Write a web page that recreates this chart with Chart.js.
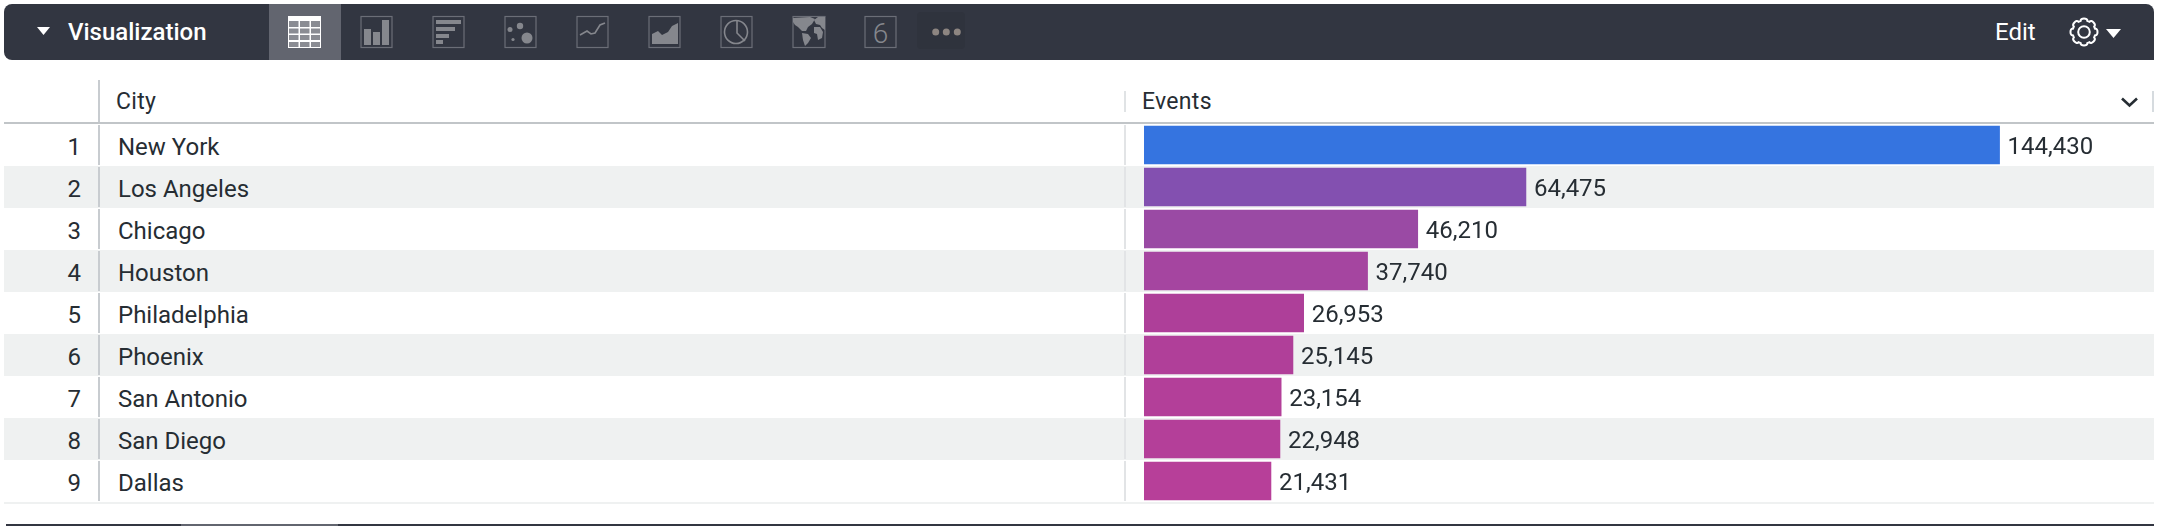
<!DOCTYPE html>
<html>
<head>
<meta charset="utf-8">
<title>Visualization</title>
<script src="https://cdn.jsdelivr.net/npm/chart.js@4"></script>
<style>
html, body { margin: 0; padding: 0; background: #fff; width: 2166px; height: 526px; overflow: hidden; font-family: Roboto, sans-serif; color: #262d33; }
.abs { position: absolute; }
#toolbar { left: 4px; top: 4px; width: 2150px; height: 56px; background: #323641; border-radius: 8px 8px 0 8px; }
#activeTab { left: 269px; top: 4px; width: 72px; height: 56px; background: #62656f; }
#vizTitle { left: 68px; top: 4px; height: 56px; line-height: 56px; font-size: 24px; font-weight: 500; color: #fff; }
#editLabel { left: 1995px; top: 4px; height: 56px; line-height: 56px; font-size: 24px; color: #fff; }
.hdr { top: 91px; height: 21px; line-height: 21px; font-size: 23px; color: #262d33; letter-spacing: 0.3px; }
.row { left: 4px; width: 2150px; height: 42px; }
.rank { width: 77px; text-align: right; left: 4px; font-size: 24px; line-height: 42px; }
.city { left: 118px; font-size: 24px; line-height: 42px; }
.sepA { left: 98px; width: 2px; height: 40px; background: #c8ccd0; }
.sepB { left: 1124px; width: 2px; height: 40px; background: #e2e4e6; }
svg { position: absolute; overflow: visible; }
#chartWrap { left: 0; top: 124px; width: 2166px; height: 378px; }
</style>
</head>
<body>
<div id="rows"></div>
<div class="abs" id="toolbar"></div>
<div class="abs" id="activeTab"></div>
<svg class="abs" style="left:37px;top:27px" width="13" height="8"><path d="M0 0H13L6.5 8Z" fill="#fff"/></svg>
<div class="abs" id="vizTitle">Visualization</div>

<!-- chart type icons -->
<svg class="abs" style="left:0;top:0" width="1000" height="60">
  <rect x="288" y="16" width="33" height="32" fill="#fff"/>
  <g fill="#8a8c93">
    <rect x="289" y="21" width="9.5" height="6"/><rect x="300" y="21" width="9.5" height="6"/><rect x="311" y="21" width="9" height="6"/>
    <rect x="289" y="28.5" width="9.5" height="5"/><rect x="300" y="28.5" width="9.5" height="5"/><rect x="311" y="28.5" width="9" height="5"/>
    <rect x="289" y="35" width="9.5" height="5"/><rect x="300" y="35" width="9.5" height="5"/><rect x="311" y="35" width="9" height="5"/>
    <rect x="289" y="42" width="9.5" height="5"/><rect x="300" y="42" width="9.5" height="5"/><rect x="311" y="42" width="9" height="5"/>
  </g>
  <g fill="none" stroke="#6b6e77" stroke-width="1.2">
    <rect x="361" y="16.5" width="31" height="31"/>
    <rect x="433" y="16.5" width="31" height="31"/>
    <rect x="505" y="16.5" width="31" height="31"/>
    <rect x="577" y="16.5" width="31" height="31"/>
    <rect x="649" y="16.5" width="31" height="31"/>
    <rect x="721" y="16.5" width="31" height="31"/>
    <rect x="793" y="16.5" width="32" height="31"/>
    <rect x="865" y="16.5" width="31" height="31"/>
  </g>
  <g fill="#85878d">
    <rect x="364" y="29" width="7" height="16"/><rect x="373" y="32" width="7" height="13"/><rect x="382" y="20" width="7" height="25"/>
    <rect x="436" y="20" width="25" height="4"/><rect x="436" y="27" width="19" height="4"/><rect x="436" y="34" width="13" height="4"/><rect x="436" y="40" width="7" height="4"/>
    <circle cx="510" cy="29.5" r="2.5"/><circle cx="520" cy="26" r="3.2"/><circle cx="513" cy="39.5" r="1.6"/><circle cx="527" cy="38" r="5.5"/>
    <path d="M652 44V34L658 31L662 35L668 32L672 26L678 23V44Z"/>
    <path d="M793 18L810 17L815 19L812 24L808 27L806 31L802 31L798 27L795 25L793 22Z"/>
    <path d="M802 33L808 34L811 38L808 43L805 46L803 40Z"/>
    <path d="M814 20L818 17L825 17V30L822 28L820 25L816 24Z"/>
    <path d="M814 27L820 27L823 32L822 38L818 40L817 34L814 33Z"/>
  </g>
  <path d="M580 35L587 31L591 34L595 33L600 25L605 23" fill="none" stroke="#85878d" stroke-width="1.6"/>
  <g fill="none" stroke="#85878d" stroke-width="1.6">
    <circle cx="736" cy="32" r="11.5"/>
    <path d="M737 20.5V33L745 41"/>
  </g>
  <text x="880.5" y="43" text-anchor="middle" font-family="Roboto" font-weight="300" font-size="28" fill="#85878d">6</text>
  <rect x="917" y="12" width="48" height="37" rx="4" fill="#2f333d"/>
  <g fill="#8d8581"><circle cx="935.7" cy="32" r="3.5"/><circle cx="946.3" cy="32" r="3.5"/><circle cx="957.3" cy="32" r="3.5"/></g>
</svg>

<div class="abs" id="editLabel">Edit</div>
<svg class="abs" style="left:2084px;top:32px" width="1" height="1">
  <circle r="5.8" fill="none" stroke="#fff" stroke-width="2"/>
  <path id="gear" fill="none" stroke="#fff" stroke-width="2" stroke-linejoin="round"/>
</svg>
<svg class="abs" style="left:2106px;top:29px" width="15" height="9"><path d="M0 0H15L7.5 9Z" fill="#fff"/></svg>

<!-- table header -->
<div class="abs" style="left:98px;top:80px;width:2px;height:42px;background:#c8ccd0"></div>
<div class="abs" style="left:1124px;top:91px;width:2px;height:21px;background:#e0e3e5"></div>
<div class="abs" style="left:2152px;top:91px;width:2px;height:21px;background:#d6dbdf"></div>
<div class="abs hdr" style="left:116px">City</div>
<div class="abs hdr" style="left:1142px">Events</div>
<svg class="abs" style="left:2121px;top:97px" width="17" height="10"><path d="M1 1.5L8.5 8.5L16 1.5" fill="none" stroke="#262d33" stroke-width="2.6"/></svg>
<div class="abs" style="left:4px;top:122px;width:2150px;height:2px;background:#c1c5c8"></div>

<div class="abs" id="chartWrap"><canvas id="chart"></canvas></div>

<div class="abs" style="left:4px;top:502px;width:2150px;height:2px;background:#eff1f1"></div>

<!-- bottom strip -->
<div class="abs" style="left:6px;top:524px;width:2148px;height:2px;background:#323641"></div>
<div class="abs" style="left:181px;top:524px;width:157px;height:2px;background:#62656f"></div>

<script>
const cities = ['New York', 'Los Angeles', 'Chicago', 'Houston', 'Philadelphia', 'Phoenix', 'San Antonio', 'San Diego', 'Dallas'];
const ranks = [1, 2, 3, 4, 5, 6, 7, 8, 9];
const events = [144430, 64475, 46210, 37740, 26953, 25145, 23154, 22948, 21431];
const barColors = ['#3574e0', '#8350b0', '#9a4aa4', '#a545a0', '#ae3f99', '#b03f99', '#b33f99', '#b43f99', '#b73f99'];

// table rows sit behind the canvas
const rowsEl = document.getElementById('rows');
cities.forEach((city, i) => {
    const top = 124 + i * 42;
    const band = i % 2 === 1 ? 'background:#eff1f1;' : '';
    rowsEl.innerHTML += `
        <div class="abs row" style="top:${top}px;${band}"></div>
        <div class="abs sepA" style="top:${top + 1}px"></div>
        <div class="abs sepB" style="top:${top + 1}px"></div>
        <div class="abs rank" style="top:${top + 2}px">${ranks[i]}</div>
        <div class="abs city" style="top:${top + 2}px">${city}</div>`;
});

// settings gear outline, eight scalloped teeth
let gearPath = '';
for (let t = 0; t < 8; t++) {
    const a = t * Math.PI / 4 - Math.PI / 2;
    const pt = (r, da) => `${(r * Math.cos(a + da)).toFixed(2)} ${(r * Math.sin(a + da)).toFixed(2)}`;
    gearPath += (t === 0 ? 'M' : 'L') + pt(11.5, -0.28) + 'C' + pt(15, -0.3) + ' ' + pt(15, 0.3) + ' ' + pt(11.5, 0.28);
}
document.getElementById('gear').setAttribute('d', gearPath + 'Z');

// value printed right after each bar
const valueLabels = {
    id: 'valueLabels',
    afterDatasetsDraw(chart) {
        const ctx = chart.ctx;
        const meta = chart.getDatasetMeta(0);
        ctx.save();
        ctx.font = '24px Roboto';
        ctx.fillStyle = '#262d33';
        ctx.textBaseline = 'alphabetic';
        meta.data.forEach((bar, i) => {
            ctx.fillText(events[i].toLocaleString('en-US'), bar.x + 8, bar.y + 9);
        });
        ctx.restore();
    }
};

new Chart(document.getElementById('chart').getContext('2d'), {
    type: 'bar',
    data: {
        labels: cities,
        datasets: [{
            data: events,
            backgroundColor: barColors,
            barThickness: 38,
            borderWidth: 0
        }]
    },
    plugins: [valueLabels],
    options: {
        indexAxis: 'y',
        responsive: true,
        maintainAspectRatio: false,
        animation: false,
        devicePixelRatio: 1,
        layout: { padding: { left: 1144, right: 12, top: 0, bottom: 0 } },
        plugins: { legend: { display: false }, tooltip: { enabled: false } },
        scales: {
            x: { display: false, min: 0, max: 170500 },
            y: { display: false }
        }
    }
});
</script>
</body>
</html>
